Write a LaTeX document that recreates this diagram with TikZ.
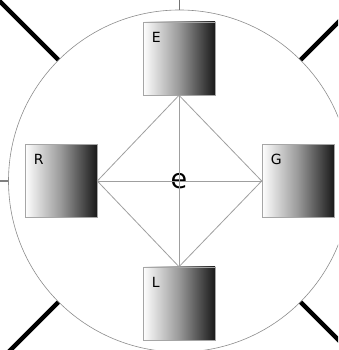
\documentclass[tikz,border=0pt]{standalone}
\usepackage{fontspec}
\setmainfont{DejaVu Sans}
\usetikzlibrary{positioning,calc}

\begin{document}
\begin{tikzpicture}[
    x=1pt, y=1pt,
    bloco/.style={
        rectangle, draw=gray!70, line width=0.6pt,
        minimum width=72pt, minimum height=73pt, inner sep=0pt,
        left color=white, right color=black!90, middle color=gray!80
    },
    letra/.style={font=\fontsize{14}{14}\selectfont, inner sep=0pt, anchor=north west},
    ligacao/.style={draw=gray!75, line width=0.8pt},
    raio/.style={line width=4.5pt, draw=black}
]
\useasboundingbox (0,0) rectangle (338,350);
\clip (0,0) rectangle (338,350);

% Anel
\node[circle, draw=gray!90, line width=0.6pt, minimum size=342pt, inner sep=0pt] (anel) at (179.5,169) {};
\node[font=\fontsize{27}{27}\selectfont, inner sep=0pt] (centro) at (179,169) {e};

% Blocos
\node[bloco] (E) at (179,291.5) {};
\node[bloco] (R) at (61,169) {};
\node[bloco] (G) at (298,169) {};
\node[bloco] (L) at (179,46.5) {};

\node[letra] (lE) at ([xshift=9pt,yshift=-10pt]E.north west) {E};
\node[letra] (lR) at ([xshift=9pt,yshift=-10pt]R.north west) {R};
\node[letra] (lG) at ([xshift=9pt,yshift=-10pt]G.north west) {G};
\node[letra] (lL) at ([xshift=9pt,yshift=-10pt]L.north west) {L};

% Ligacoes
\draw[ligacao] (E.south) -- (R.east) -- (L.north) -- (G.west) -- cycle;
\draw[ligacao] (E.south) -- (L.north);
\draw[ligacao] (R.east) -- (G.west);

% Raios
\draw[raio] (anel.north west) -- ++(135:90);
\draw[raio] (anel.north east) -- ++(45:90);
\draw[raio] (anel.south west) -- ++(225:90);
\draw[raio] (anel.south east) -- ++(-45:90);
\draw[draw=gray!90!black, line width=1.5pt] (anel.north) -- ++(0,20);
\draw[draw=gray, line width=2pt] (anel.west) -- ++(-20,0);

\end{tikzpicture}
\end{document}
